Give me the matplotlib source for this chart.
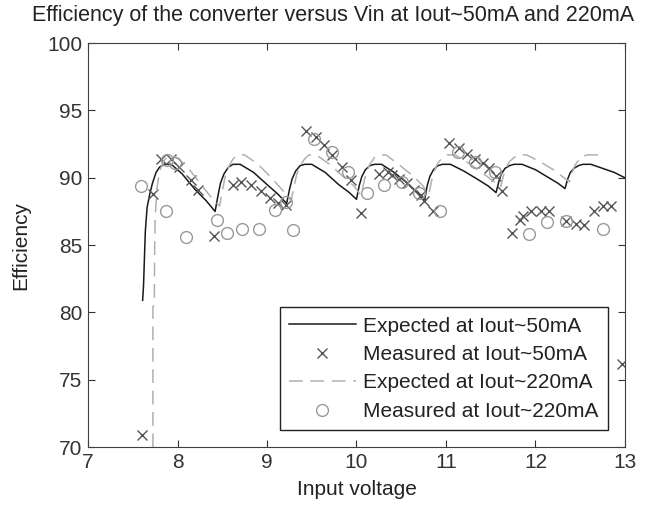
import matplotlib
matplotlib.use("Agg")
from matplotlib import pyplot as plt

plt.rcParams['font.family'] = ['Liberation Sans', 'DejaVu Sans']

# expected efficiency at Iout~50mA
exp50_v = [7.61, 7.62, 7.63, 7.64, 7.66, 7.69, 7.72, 7.76, 7.80, 7.85, 7.93, 8.05, 8.20, 8.32, 8.42,
           8.45, 8.48, 8.52, 8.57, 8.62, 8.70, 8.85, 9.00, 9.12, 9.22,
           9.25, 9.28, 9.32, 9.37, 9.42, 9.50, 9.65, 9.80, 9.92, 10.00,
           10.03, 10.06, 10.10, 10.15, 10.20, 10.28, 10.42, 10.57, 10.68, 10.76,
           10.79, 10.82, 10.86, 10.91, 10.96, 11.05, 11.20, 11.35, 11.47, 11.56,
           11.59, 11.62, 11.66, 11.71, 11.76, 11.85, 12.00, 12.15, 12.25, 12.33,
           12.36, 12.39, 12.43, 12.48, 12.53, 12.62, 12.75, 12.88, 13.00]
exp50_e = [80.9, 82.0, 84.0, 86.0, 87.8, 88.8, 89.6, 90.4, 90.8, 91.0, 91.0, 90.3, 89.1, 88.3, 87.5,
           88.6, 89.6, 90.3, 90.8, 91.0, 91.0, 90.4, 89.5, 88.8, 88.1,
           89.1, 89.9, 90.5, 90.9, 91.0, 91.0, 90.4, 89.5, 88.9, 88.4,
           89.4, 90.1, 90.6, 90.9, 91.0, 91.0, 90.4, 89.6, 88.9, 88.3,
           89.4, 90.1, 90.6, 90.9, 91.0, 91.0, 90.5, 89.9, 89.4, 88.9,
           89.7, 90.3, 90.7, 90.9, 91.0, 91.0, 90.6, 90.0, 89.6, 89.2,
           89.9, 90.4, 90.7, 90.9, 91.0, 91.0, 90.7, 90.4, 90.0]

# measured at Iout~50mA
meas50_v = [7.60, 7.73, 7.82, 7.93, 8.02, 8.15, 8.23, 8.41, 8.62, 8.71, 8.82, 8.93, 9.03, 9.12, 9.21,
            9.44, 9.55, 9.64, 9.73, 9.84, 9.94, 10.05, 10.25, 10.35, 10.40, 10.48, 10.57, 10.64, 10.72,
            10.76, 10.85, 11.03, 11.15, 11.24, 11.33, 11.41, 11.48, 11.56, 11.63, 11.74, 11.83, 11.86,
            11.95, 12.06, 12.15, 12.34, 12.45, 12.54, 12.65, 12.76, 12.84, 12.97]
meas50_e = [70.9, 88.8, 91.4, 91.4, 90.8, 89.8, 89.1, 85.7, 89.5, 89.7, 89.5, 89.0, 88.5, 88.1, 88.0,
            93.5, 93.0, 92.4, 91.7, 90.8, 89.8, 87.4, 90.3, 90.4, 90.2, 89.9, 89.6, 89.1, 88.7,
            88.3, 87.5, 92.6, 92.2, 91.8, 91.4, 91.1, 90.7, 90.1, 89.0, 85.9, 86.9, 87.2,
            87.5, 87.5, 87.5, 86.8, 86.6, 86.5, 87.5, 87.9, 87.9, 76.2]

# expected efficiency at Iout~220mA
exp220_v = [7.725, 7.725, 7.74, 7.745, 7.75, 7.77, 7.80, 7.85, 7.90, 7.97, 8.10, 8.25, 8.37, 8.47,
            8.50, 8.53, 8.57, 8.62, 8.67, 8.75, 8.90, 9.05, 9.17, 9.27,
            9.30, 9.33, 9.37, 9.42, 9.47, 9.55, 9.70, 9.85, 9.97, 10.05,
            10.08, 10.11, 10.15, 10.20, 10.25, 10.33, 10.47, 10.62, 10.73, 10.81,
            10.84, 10.87, 10.91, 10.96, 11.01, 11.10, 11.25, 11.40, 11.52, 11.61,
            11.64, 11.67, 11.71, 11.76, 11.81, 11.90, 12.05, 12.20, 12.30, 12.38,
            12.41, 12.44, 12.48, 12.53, 12.58, 12.75]
exp220_e = [70.0, 80.4, 80.6, 85.0, 87.0, 89.2, 90.5, 91.3, 91.6, 91.6, 90.9, 89.6, 88.6, 87.9,
            89.0, 90.0, 90.8, 91.4, 91.7, 91.7, 91.0, 90.0, 89.1, 88.3,
            89.3, 90.2, 90.9, 91.4, 91.7, 91.7, 91.0, 90.1, 89.4, 88.7,
            89.6, 90.4, 91.0, 91.5, 91.7, 91.7, 91.0, 90.2, 89.5, 88.8,
            89.8, 90.5, 91.1, 91.5, 91.7, 91.7, 91.1, 90.4, 89.8, 89.3,
            90.1, 90.7, 91.2, 91.5, 91.7, 91.7, 91.2, 90.6, 90.1, 89.7,
            90.4, 90.9, 91.3, 91.6, 91.7, 91.7]

# measured at Iout~220mA
meas220_v = [7.59, 7.87, 7.88, 7.97, 8.10, 8.44, 8.55, 8.72, 8.91, 9.09, 9.21, 9.29, 9.53, 9.73, 9.90,
             10.12, 10.31, 10.51, 10.70, 10.93, 11.14, 11.33, 11.55, 11.93, 12.13, 12.34, 12.76]
meas220_e = [89.4, 87.5, 91.3, 91.1, 85.6, 86.9, 85.9, 86.2, 86.2, 87.6, 88.2, 86.1, 92.9, 91.9, 90.4,
             88.9, 89.5, 89.7, 88.9, 87.5, 91.9, 91.2, 90.4, 85.8, 86.7, 86.8, 86.2]

fig = plt.figure(figsize=(6.62, 5.07), dpi=100)
ax = fig.add_axes([0.133, 0.118, 0.811, 0.797])

ax.plot(exp50_v, exp50_e, '-', color='#1a1a1a', lw=1.1, label='Expected at Iout~50mA')
ax.plot(meas50_v, meas50_e, 'x', color='#555555', ms=7.5, mew=1.0, label='Measured at Iout~50mA')
ax.plot(exp220_v, exp220_e, '--', color='#b0b0b0', lw=1.1, dashes=(9, 5), label='Expected at Iout~220mA')
ax.plot(meas220_v, meas220_e, 'o', color='#999999', mfc='none', ms=8.5, mew=1.0, label='Measured at Iout~220mA')

ax.set_xlim(7, 13)
ax.set_ylim(70, 100)
ax.set_xticks([7, 8, 9, 10, 11, 12, 13])
ax.set_yticks([70, 75, 80, 85, 90, 95, 100])
ax.tick_params(direction='in', top=True, right=True, length=5, labelsize=15, colors='#333333', pad=4)
for s in ax.spines.values():
    s.set_color('#404040')

fig.text(333 / 662, 1 - 15 / 507, 'Efficiency of the converter versus Vin at Iout~50mA and 220mA',
         fontsize=15.5, color='#222222', ha='center', va='center')
ax.set_xlabel('Input voltage', fontsize=15, color='#222222', labelpad=6)
ax.set_ylabel('Efficiency', fontsize=15, color='#222222', labelpad=12)

leg = ax.legend(loc='lower right', bbox_to_anchor=(0.968, 0.042), borderaxespad=0,
                fontsize=15, handlelength=3.2, handletextpad=0.35, fancybox=False, framealpha=1,
                edgecolor='#222222', labelspacing=0.45, borderpad=0.45)
leg.get_frame().set_linewidth(1.0)
for t in leg.get_texts():
    t.set_color('#222222')

plt.savefig('out.png', dpi=100)
